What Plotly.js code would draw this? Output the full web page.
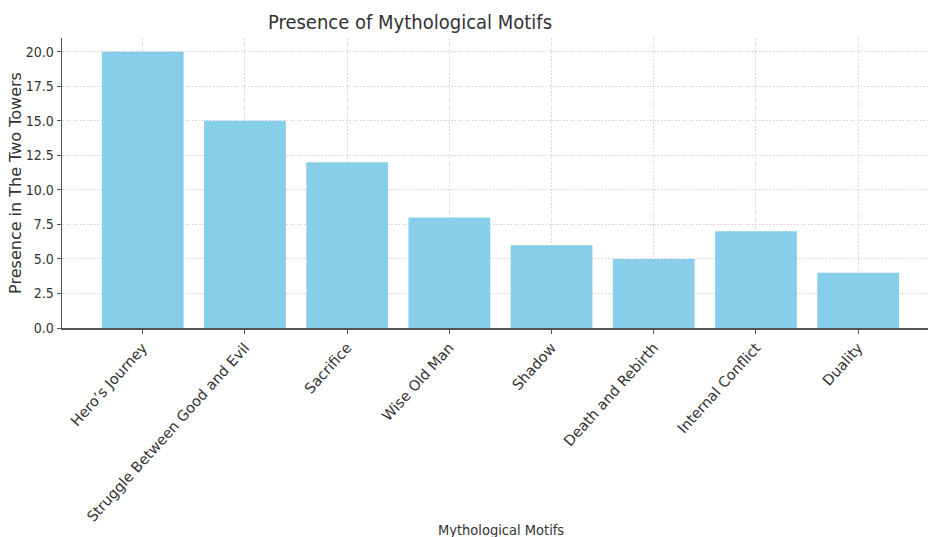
<!DOCTYPE html>
<html>
<head>
<meta charset="utf-8">
<script src="https://cdn.plot.ly/plotly-3.0.1.min.js"></script>
<style>html,body{margin:0;padding:0;background:#fff;}#chart{width:928px;height:537px;}</style>
</head>
<body>
<div id="chart"></div>
<script>
const motifs = ["Hero’s Journey", "Struggle Between Good and Evil", "Sacrifice", "Wise Old Man", "Shadow", "Death and Rebirth", "Internal Conflict", "Duality"];
const presence = [20, 15, 12, 8, 6, 5, 7, 4];
const yTicks = [0, 2.5, 5, 7.5, 10, 12.5, 15, 17.5, 20];
const yTickLabels = ["0.0", "2.5", "5.0", "7.5", "10.0", "12.5", "15.0", "17.5", "20.0"];

const font = "DejaVu Sans, sans-serif";
const cond = "DejaVu Sans Condensed, DejaVu Sans, sans-serif";
const trace = {
  type: "bar",
  x: motifs.map((_, i) => i),
  y: presence,
  width: 0.8,
  marker: {color: "#87CEEB", line: {width: 0}},
  hoverinfo: "x+y"
};
const layout = {
  width: 928, height: 537,
  margin: {l: 62, r: 0, t: 38, b: 209},
  paper_bgcolor: "#fff", plot_bgcolor: "#fff",
  showlegend: false,
  font: {family: font, color: "#333", size: 12},
  title: {text: "Presence of Mythological Motifs", font: {family: cond, size: 20, color: "#333"},
          x: 410/928, xanchor: "center", xref: "container", y: 1 - 22/537, yanchor: "middle", yref: "container"},
  xaxis: {
    range: [-0.79, (928 - 142) / 102.3],
    tickmode: "array", tickvals: motifs.map((_, i) => i), ticktext: motifs,
    tickangle: -48, ticks: "outside", ticklen: 4, tickcolor: "#555",
    showline: true, linecolor: "#555", linewidth: 1.5,
    showgrid: true, gridcolor: "#cfcfcf", griddash: "2px,1.5px", gridwidth: 0.8,
    zeroline: false, automargin: false,
    tickfont: {family: font, size: 14.5, color: "#333"}
  },
  yaxis: {
    range: [0, 21],
    tickmode: "array", tickvals: yTicks, ticktext: yTickLabels,
    ticks: "outside", ticklen: 4, tickcolor: "#555",
    showline: true, linecolor: "#555", linewidth: 1.5,
    showgrid: true, gridcolor: "#cfcfcf", griddash: "2px,1.5px", gridwidth: 0.8,
    zeroline: false, automargin: false,
    tickfont: {family: cond, size: 14, color: "#333"},
    title: {text: "Presence in The Two Towers", font: {family: font, size: 16, color: "#333"}, standoff: 0}
  },
  annotations: [{
    text: "Mythological Motifs", showarrow: false,
    xref: "paper", yref: "paper", x: (501 - 62) / 866, y: (328 - 530) / 290,
    xanchor: "center", yanchor: "middle",
    font: {family: cond, size: 14.5, color: "#333"}
  }]
};
Plotly.newPlot("chart", [trace], layout, {displayModeBar: false, staticPlot: true});
</script>
</body>
</html>
